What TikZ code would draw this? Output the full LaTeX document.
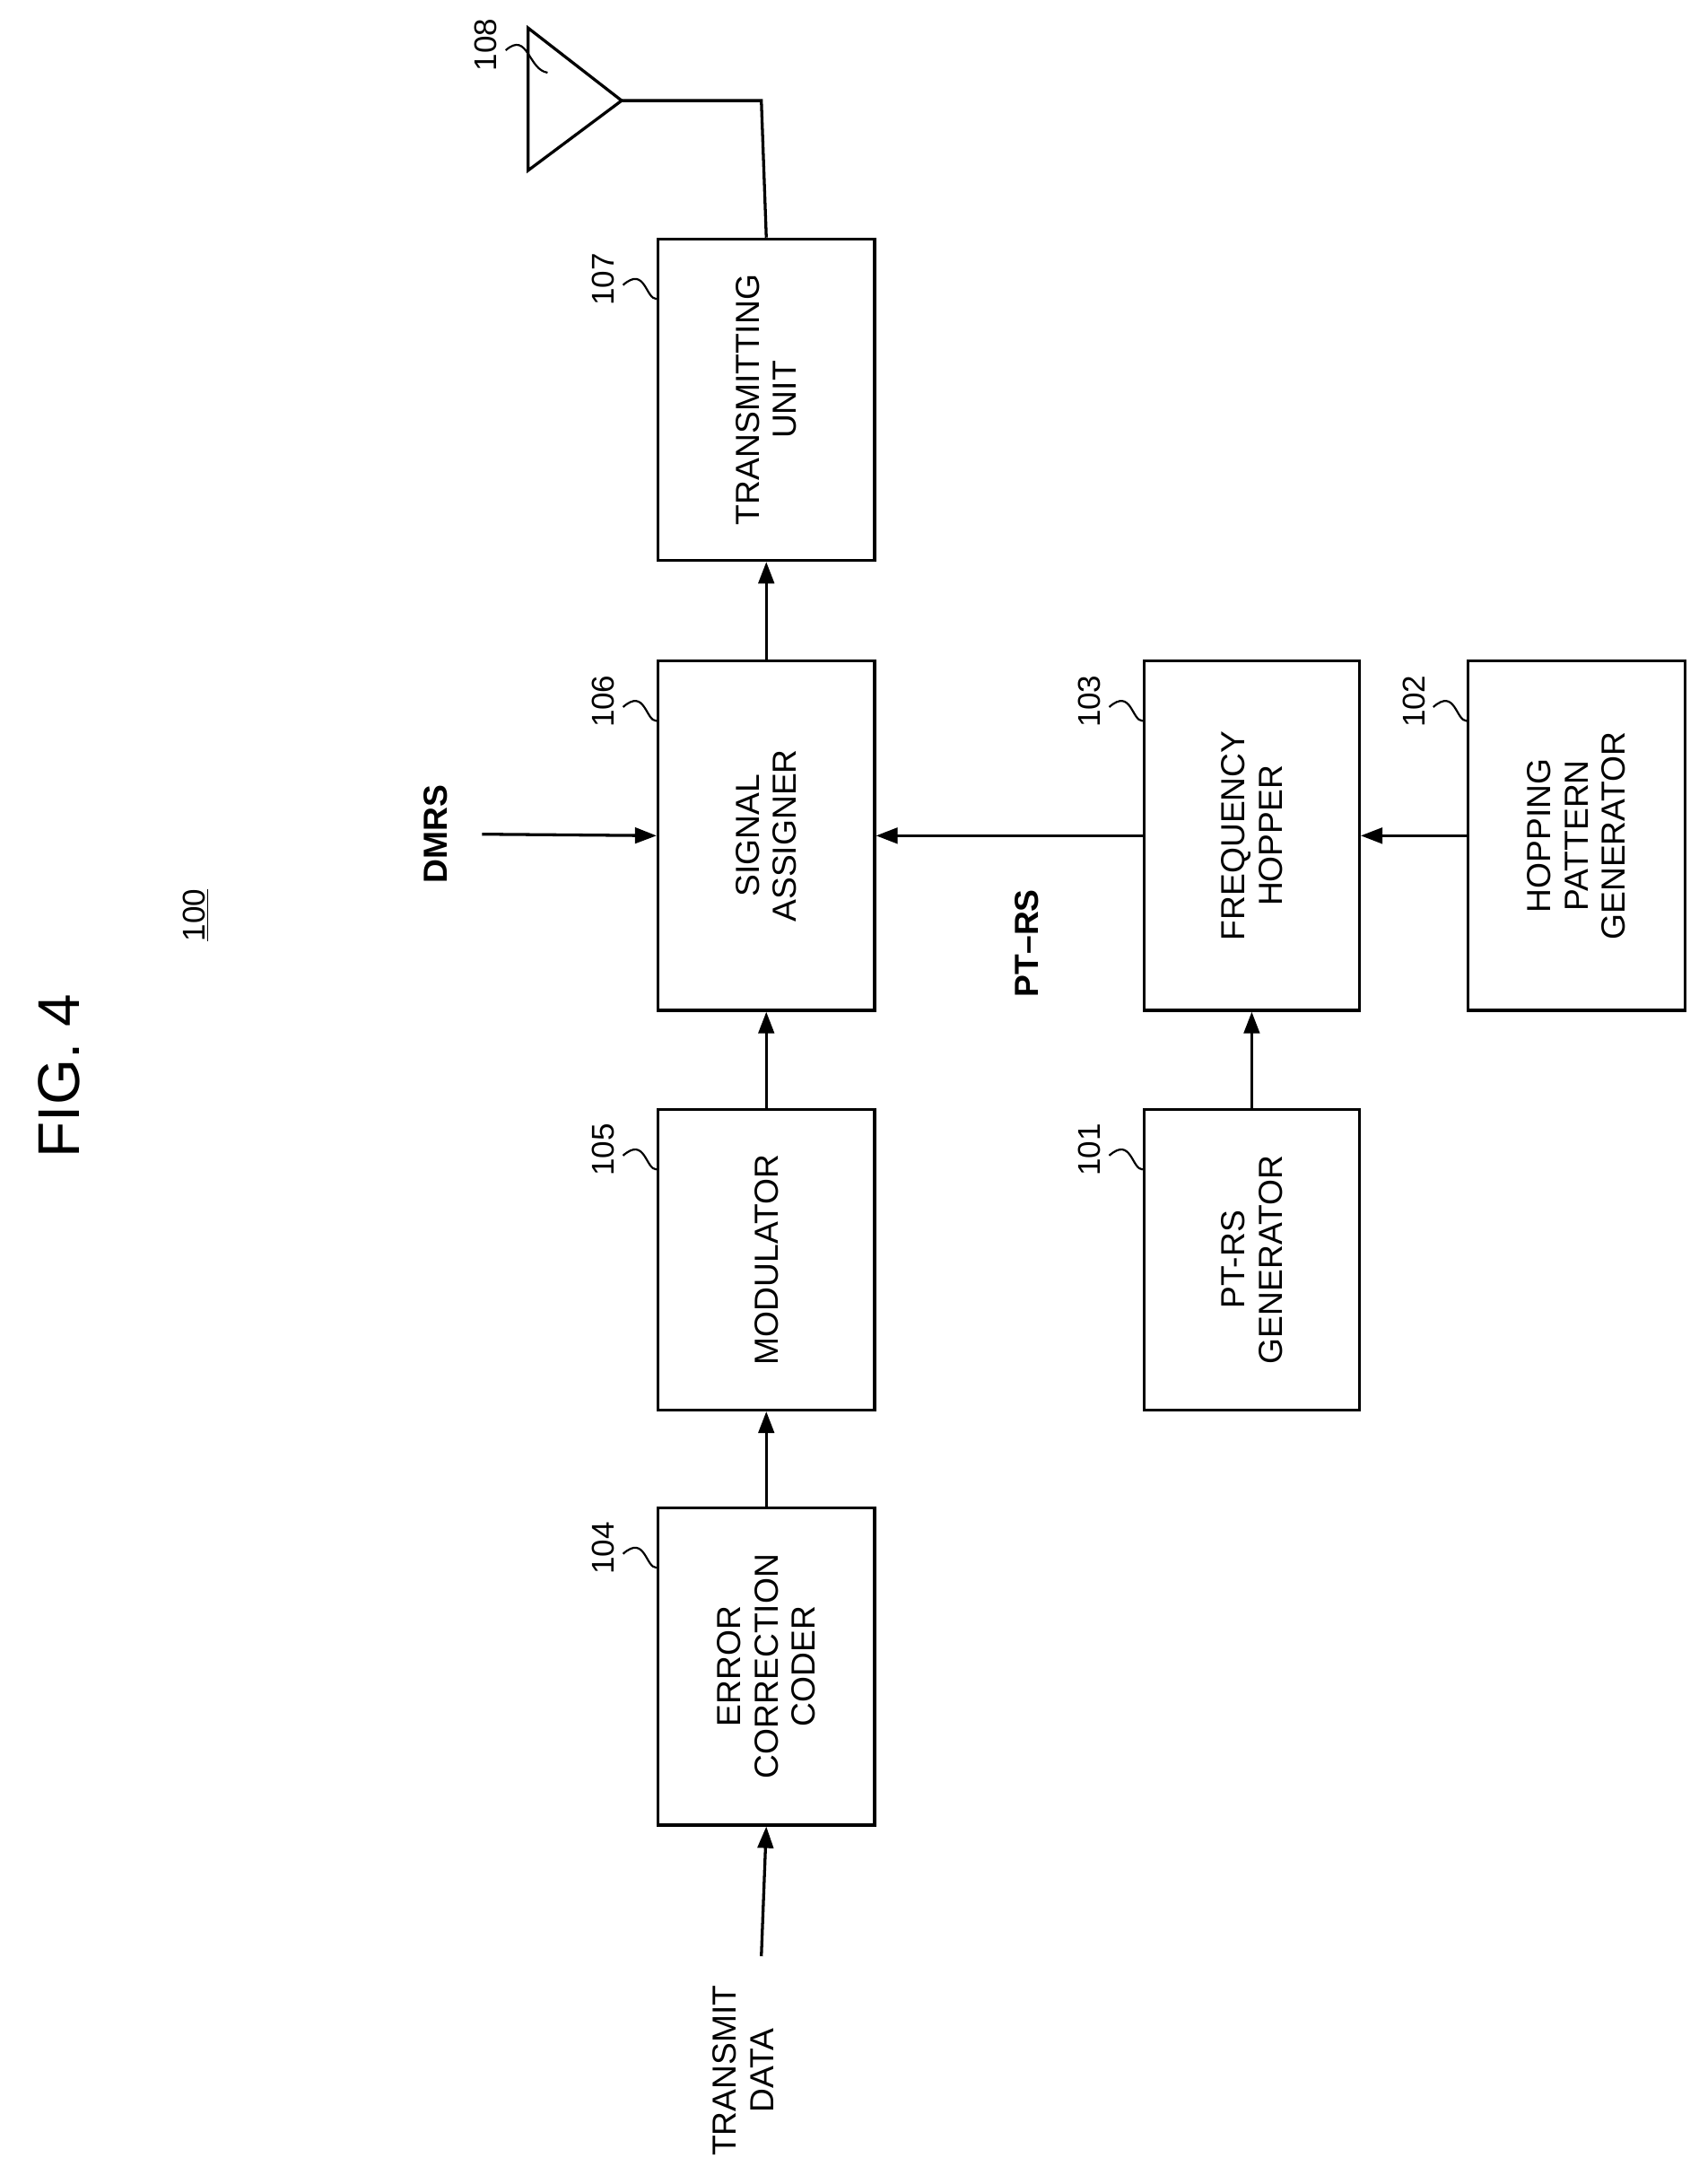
\documentclass[tikz,border=0pt]{standalone}
\usepackage{fontspec}
\setmainfont{Liberation Sans}
\usetikzlibrary{arrows.meta}
\begin{document}
\begin{tikzpicture}[x=0.05cm,y=-0.05cm,line width=3pt,
  box/.style={draw,line width=3pt,anchor=north west,inner sep=0pt},
  lbl/.style={rotate=90,font=\fontsize{34}{38}\selectfont,align=center},
  num/.style={rotate=90,font=\fontsize{32}{36}\selectfont},
  arr/.style={-{Triangle[length=22pt,width=16pt]}}]
\useasboundingbox (0,0) rectangle (1216,1563);
\node[box,minimum width=155*0.05cm,minimum height=227*0.05cm] (b104) at (470,1078) {};
\node[box,minimum width=155*0.05cm,minimum height=215*0.05cm] (b105) at (470,793) {};
\node[box,minimum width=155*0.05cm,minimum height=250*0.05cm] (b106) at (470,472) {};
\node[box,minimum width=155*0.05cm,minimum height=230*0.05cm] (b107) at (470,170) {};
\node[box,minimum width=154*0.05cm,minimum height=215*0.05cm] (b101) at (818,793) {};
\node[box,minimum width=154*0.05cm,minimum height=250*0.05cm] (b103) at (818,472) {};
\node[box,minimum width=155*0.05cm,minimum height=250*0.05cm] (b102) at (1050,472) {};
\node[lbl] (t104) at (b104.center) {ERROR\\CORRECTION\\CODER};
\node[lbl] (t105) at (b105.center) {MODULATOR};
\node[lbl] (t106) at (b106.center) {SIGNAL\\ASSIGNER};
\node[lbl] (t107) at (b107.center) {TRANSMITTING\\UNIT};
\node[lbl] (t101) at (b101.center) {PT-RS\\GENERATOR};
\node[lbl] (t103) at (b103.center) {FREQUENCY\\HOPPER};
\node[lbl] (t102) at (b102.center) {HOPPING\\PATTERN\\GENERATOR};
% antenna
\coordinate (ap) at (445,72);
\coordinate (a1) at (378,20);
\coordinate (a2) at (378,122);
\draw[line join=miter] (ap) -- (a1) -- (a2) -- cycle;
\coordinate (ac) at (545,72);
\draw (ap) -- (ac) -- (b107.north);
% connectors
\coordinate (td) at (545,1400);
\draw[arr] (td) -- (b104.south);
\draw[arr] (b104.north) -- (b105.south);
\draw[arr] (b105.north) -- (b106.south);
\draw[arr] (b106.north) -- (b107.south);
\coordinate (dm) at (345,597);
\draw[arr] (dm) -- (b106.west);
\draw[arr] (b103.west) -- (b106.east);
\draw[arr] (b101.north) -- (b103.south);
\draw[arr] (b102.west) -- (b103.east);
% labels
\node[lbl] (ltd) at (532,1482) {TRANSMIT\\DATA};
\node[lbl,font=\fontsize{34}{38}\selectfont\bfseries] (ldm) at (312,597) {DMRS};
\node[lbl,font=\fontsize{34}{38}\selectfont\bfseries] (lpt) at (735,675) {PT–RS};
\node[rotate=90,font=\fontsize{60}{66}\selectfont] (fig) at (42,770) {FIG. 4};
\node[num] (n100) at (140,655) {\underline{100}};
% reference numbers with squiggles
\foreach \n/\x/\y in {104/432/1108,105/432/823,106/432/502,107/432/200,101/780/823,103/780/502,102/1012/502}{
  \node[num] (r\n) at (\x,\y) {\n};
  \draw[line width=2pt] (\x+14,\y+4) .. controls (\x+30,\y-10) and (\x+30,\y+14) .. (\x+38,\y+14);
}
\node[num] (r108) at (348,32) {108};
\draw[line width=2pt] (362,36) .. controls (378,22) and (378,50) .. (392,52);
\end{tikzpicture}
\end{document}
